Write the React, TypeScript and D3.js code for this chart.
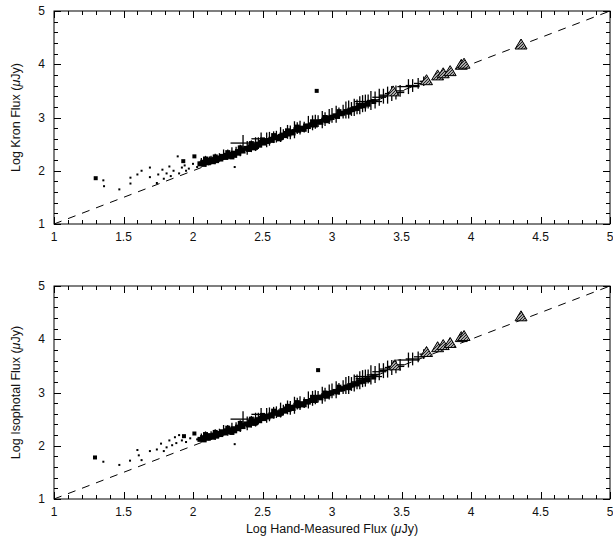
import React from "react";
import * as d3 from "d3";

// ---------- tick labels ----------
const xTicks = [1, 1.5, 2, 2.5, 3, 3.5, 4, 4.5, 5];
const xTickLabels = ["1", "1.5", "2", "2.5", "3", "3.5", "4", "4.5", "5"];
const yTicks = [1, 2, 3, 4, 5];
const yTickLabels = ["1", "2", "3", "4", "5"];

// ---------- top panel: Kron flux ----------
const kronDots: [number, number][] = [
  [1.355, 1.82], [1.36, 1.71], [1.47, 1.65], [1.55, 1.87], [1.55, 1.76],
  [1.6, 1.93], [1.63, 2.0], [1.69, 2.06], [1.69, 1.88], [1.74, 1.77],
  [1.75, 1.93], [1.78, 2.02], [1.79, 1.85], [1.81, 1.95], [1.83, 2.08],
  [1.84, 1.9], [1.86, 2.0], [1.89, 2.27], [1.9, 1.95], [1.92, 2.06],
  [1.94, 2.1], [1.95, 2.0], [1.97, 2.04], [2.0, 2.13], [2.03, 2.07],
  [2.06, 2.12], [2.09, 2.22], [2.12, 2.25], [2.15, 2.26], [2.3, 2.07],
];
const kronBigDots: [number, number][] = [
  [1.3, 1.86], [1.93, 2.18], [2.01, 2.27], [2.89, 3.5],
];
const kronSquares: [number, number][] = [
  [2.05, 2.13], [2.07, 2.16], [2.08, 2.12], [2.1, 2.18], [2.11, 2.15],
  [2.12, 2.2], [2.14, 2.17], [2.15, 2.21], [2.17, 2.19], [2.18, 2.24],
  [2.2, 2.22], [2.21, 2.27], [2.23, 2.25], [2.24, 2.29], [2.26, 2.27],
  [2.27, 2.31], [2.29, 2.33], [2.3, 2.29], [2.32, 2.36], [2.33, 2.33],
  [2.35, 2.39], [2.36, 2.37], [2.38, 2.42], [2.4, 2.4], [2.41, 2.45],
  [2.43, 2.46], [2.44, 2.43], [2.46, 2.5], [2.48, 2.48], [2.49, 2.53],
  [2.51, 2.52], [2.52, 2.56], [2.54, 2.55], [2.56, 2.59], [2.57, 2.57],
  [2.59, 2.62], [2.61, 2.63], [2.62, 2.6], [2.64, 2.67], [2.66, 2.66],
  [2.67, 2.7], [2.69, 2.69], [2.71, 2.73], [2.72, 2.71], [2.74, 2.77],
  [2.76, 2.76], [2.78, 2.8], [2.79, 2.78], [2.81, 2.84], [2.83, 2.83],
  [2.85, 2.86], [2.87, 2.88], [2.88, 2.86], [2.9, 2.92], [2.92, 2.91],
  [2.94, 2.95], [2.96, 2.94], [2.98, 2.99], [3.0, 3.0], [3.02, 3.03],
  [3.04, 3.02], [3.06, 3.07], [3.08, 3.08], [3.1, 3.11], [3.12, 3.1],
  [3.15, 3.15], [3.18, 3.17], [3.2, 3.21], [3.23, 3.22], [3.26, 3.25],
  [3.3, 3.3], [2.09, 2.22], [2.16, 2.26], [2.25, 2.34], [2.34, 2.43],
  [2.42, 2.51], [2.5, 2.58], [2.58, 2.66], [2.68, 2.75], [2.75, 2.82],
  [2.86, 2.92], [2.95, 3.0], [3.05, 3.11], [2.28, 2.26], [2.45, 2.44],
  [2.63, 2.62], [2.8, 2.78], [2.97, 2.96], [3.13, 3.14],
];
// [x, y, xErr, yErr]
const kronCrosses: [number, number, number, number][] = [
  [2.06, 2.16, 0.015, 0.08], [2.09, 2.18, 0.015, 0.1], [2.13, 2.2, 0.015, 0.08],
  [2.16, 2.22, 0.015, 0.1], [2.19, 2.25, 0.015, 0.08], [2.22, 2.3, 0.03, 0.1],
  [2.25, 2.3, 0.02, 0.1], [2.28, 2.33, 0.02, 0.11], [2.31, 2.35, 0.02, 0.1],
  [2.34, 2.38, 0.02, 0.11], [2.36, 2.52, 0.09, 0.15], [2.39, 2.43, 0.02, 0.13],
  [2.42, 2.46, 0.02, 0.11], [2.45, 2.5, 0.02, 0.13], [2.47, 2.52, 0.02, 0.11],
  [2.49, 2.6, 0.07, 0.12], [2.53, 2.58, 0.02, 0.14], [2.55, 2.6, 0.02, 0.13],
  [2.58, 2.63, 0.02, 0.11], [2.6, 2.64, 0.02, 0.11], [2.63, 2.68, 0.02, 0.14],
  [2.65, 2.68, 0.02, 0.1], [2.68, 2.73, 0.02, 0.13], [2.7, 2.72, 0.02, 0.13],
  [2.73, 2.77, 0.02, 0.16], [2.75, 2.8, 0.02, 0.11], [2.77, 2.81, 0.02, 0.13],
  [2.8, 2.82, 0.02, 0.1], [2.83, 2.87, 0.02, 0.16], [2.86, 2.9, 0.02, 0.14],
  [2.88, 2.92, 0.02, 0.13], [2.9, 2.93, 0.02, 0.11], [2.93, 2.96, 0.02, 0.16],
  [2.95, 2.97, 0.02, 0.13], [2.98, 3.02, 0.02, 0.14], [3.0, 3.04, 0.02, 0.14],
  [3.03, 3.06, 0.02, 0.16], [3.05, 3.08, 0.02, 0.11], [3.08, 3.11, 0.02, 0.13],
  [3.1, 3.14, 0.02, 0.16], [3.12, 3.15, 0.02, 0.17], [3.14, 3.16, 0.03, 0.13],
  [3.16, 3.19, 0.02, 0.16], [3.18, 3.2, 0.04, 0.14], [3.2, 3.23, 0.03, 0.17],
  [3.22, 3.26, 0.05, 0.16], [3.24, 3.27, 0.03, 0.16], [3.26, 3.3, 0.1, 0.13],
  [3.28, 3.32, 0.03, 0.18], [3.31, 3.33, 0.03, 0.16], [3.34, 3.38, 0.05, 0.16],
  [3.37, 3.4, 0.03, 0.14], [3.4, 3.42, 0.06, 0.16], [3.43, 3.45, 0.05, 0.14],
  [3.46, 3.47, 0.06, 0.13], [3.49, 3.5, 0.03, 0.11], [3.55, 3.58, 0.08, 0.14],
  [3.58, 3.6, 0.05, 0.12], [3.62, 3.64, 0.03, 0.1], [3.66, 3.68, 0.03, 0.09],
];
const kronTriangles: [number, number][] = [
  [3.44, 3.5], [3.68, 3.71], [3.76, 3.8], [3.8, 3.84],
  [3.85, 3.88], [3.93, 4.0], [3.95, 4.02], [4.36, 4.38],
];

// ---------- bottom panel: isophotal flux ----------
const isoDots: [number, number][] = [
  [1.355, 1.7], [1.47, 1.64], [1.547, 1.72], [1.6, 1.92], [1.61, 1.82],
  [1.63, 1.73], [1.69, 1.9], [1.74, 1.93], [1.77, 2.04], [1.79, 1.9],
  [1.81, 1.97], [1.83, 2.1], [1.85, 2.01], [1.87, 2.16], [1.88, 2.05],
  [1.9, 2.2], [1.92, 2.1], [1.95, 2.07], [1.98, 2.14], [2.03, 2.12],
  [2.06, 2.18], [2.09, 2.2], [2.3, 2.03],
];
const isoBigDots: [number, number][] = [
  [1.295, 1.78], [1.935, 2.18], [2.01, 2.23], [2.9, 3.42],
];
const isoSquares: [number, number][] = [
  [2.05, 2.12], [2.07, 2.15], [2.08, 2.11], [2.1, 2.17], [2.11, 2.14],
  [2.12, 2.19], [2.14, 2.16], [2.15, 2.2], [2.17, 2.18], [2.18, 2.23],
  [2.2, 2.21], [2.21, 2.26], [2.23, 2.24], [2.24, 2.28], [2.26, 2.26],
  [2.27, 2.3], [2.29, 2.32], [2.3, 2.28], [2.32, 2.35], [2.33, 2.32],
  [2.35, 2.38], [2.36, 2.36], [2.38, 2.41], [2.4, 2.39], [2.41, 2.44],
  [2.43, 2.45], [2.44, 2.42], [2.46, 2.49], [2.48, 2.47], [2.49, 2.52],
  [2.51, 2.51], [2.52, 2.55], [2.54, 2.54], [2.56, 2.58], [2.57, 2.56],
  [2.59, 2.61], [2.61, 2.62], [2.62, 2.59], [2.64, 2.66], [2.66, 2.65],
  [2.67, 2.69], [2.69, 2.68], [2.71, 2.72], [2.72, 2.7], [2.74, 2.76],
  [2.76, 2.75], [2.78, 2.79], [2.79, 2.77], [2.81, 2.83], [2.83, 2.82],
  [2.85, 2.85], [2.87, 2.87], [2.88, 2.85], [2.9, 2.91], [2.92, 2.9],
  [2.94, 2.94], [2.96, 2.93], [2.98, 2.98], [3.0, 2.99], [3.02, 3.02],
  [3.04, 3.01], [3.06, 3.06], [3.08, 3.07], [3.1, 3.1], [3.12, 3.09],
  [3.15, 3.14], [3.18, 3.16], [3.2, 3.2], [3.23, 3.21], [3.26, 3.24],
  [3.3, 3.29], [2.09, 2.21], [2.16, 2.25], [2.25, 2.33], [2.34, 2.42],
  [2.42, 2.5], [2.5, 2.57], [2.58, 2.65], [2.68, 2.74], [2.75, 2.81],
  [2.86, 2.91], [2.95, 2.99], [3.05, 3.1], [2.28, 2.25], [2.45, 2.43],
  [2.63, 2.61], [2.8, 2.77], [2.97, 2.95], [3.13, 3.13],
];
const isoCrosses: [number, number, number, number][] = [
  [2.06, 2.15, 0.015, 0.08], [2.09, 2.17, 0.015, 0.1], [2.13, 2.19, 0.015, 0.08],
  [2.16, 2.21, 0.015, 0.1], [2.19, 2.24, 0.015, 0.08], [2.22, 2.29, 0.03, 0.1],
  [2.25, 2.29, 0.02, 0.1], [2.28, 2.32, 0.02, 0.11], [2.31, 2.34, 0.02, 0.1],
  [2.34, 2.37, 0.02, 0.11], [2.36, 2.5, 0.09, 0.15], [2.39, 2.42, 0.02, 0.13],
  [2.42, 2.45, 0.02, 0.11], [2.45, 2.49, 0.02, 0.13], [2.47, 2.51, 0.02, 0.11],
  [2.49, 2.59, 0.07, 0.12], [2.53, 2.57, 0.02, 0.14], [2.55, 2.59, 0.02, 0.13],
  [2.58, 2.62, 0.02, 0.11], [2.6, 2.63, 0.02, 0.11], [2.63, 2.67, 0.02, 0.14],
  [2.65, 2.67, 0.02, 0.1], [2.68, 2.72, 0.02, 0.13], [2.7, 2.71, 0.02, 0.13],
  [2.73, 2.76, 0.02, 0.16], [2.75, 2.79, 0.02, 0.11], [2.77, 2.8, 0.02, 0.13],
  [2.8, 2.81, 0.02, 0.1], [2.83, 2.86, 0.02, 0.16], [2.86, 2.89, 0.02, 0.14],
  [2.88, 2.91, 0.02, 0.13], [2.9, 2.92, 0.02, 0.11], [2.93, 2.95, 0.02, 0.16],
  [2.95, 2.96, 0.02, 0.13], [2.98, 3.01, 0.02, 0.14], [3.0, 3.03, 0.02, 0.14],
  [3.03, 3.05, 0.02, 0.16], [3.05, 3.07, 0.02, 0.11], [3.08, 3.1, 0.02, 0.13],
  [3.1, 3.13, 0.02, 0.16], [3.12, 3.14, 0.02, 0.17], [3.14, 3.16, 0.03, 0.13],
  [3.16, 3.18, 0.02, 0.16], [3.18, 3.2, 0.04, 0.14], [3.2, 3.23, 0.03, 0.17],
  [3.22, 3.26, 0.05, 0.16], [3.24, 3.27, 0.03, 0.16], [3.26, 3.3, 0.1, 0.13],
  [3.28, 3.33, 0.03, 0.18], [3.31, 3.34, 0.03, 0.16], [3.34, 3.39, 0.05, 0.16],
  [3.37, 3.41, 0.03, 0.14], [3.4, 3.44, 0.06, 0.16], [3.43, 3.47, 0.05, 0.14],
  [3.46, 3.49, 0.06, 0.13], [3.49, 3.52, 0.03, 0.11], [3.55, 3.61, 0.08, 0.14],
  [3.58, 3.63, 0.05, 0.12], [3.62, 3.67, 0.03, 0.1], [3.66, 3.72, 0.03, 0.09],
];
const isoTriangles: [number, number][] = [
  [3.45, 3.52], [3.68, 3.77], [3.76, 3.86], [3.8, 3.9],
  [3.85, 3.94], [3.93, 4.05], [3.95, 4.07], [4.36, 4.44],
];

const FONT = "'Liberation Sans', Arial, Helvetica, sans-serif";

type PanelProps = {
  id: string;
  top: number;
  bottom: number;
  yTitle: string;
  dots: [number, number][];
  bigDots: [number, number][];
  squares: [number, number][];
  crosses: [number, number, number, number][];
  triangles: [number, number][];
  xTitle?: string;
};

function Panel(p: PanelProps) {
  const x = d3.scaleLinear().domain([1, 5]).range([54, 610]);
  const y = d3.scaleLinear().domain([1, 5]).range([p.bottom, p.top]);
  const [x0, x1] = x.range();
  const minorX = d3.range(1, 5.0001, 0.1);
  const minorY = d3.range(1, 5.0001, 0.2);
  const midY = (p.top + p.bottom) / 2;
  const tri = (cx: number, cy: number) => {
    const w = 6, h = 10;
    return `M${cx - w},${cy + h / 2}L${cx},${cy - h / 2}L${cx + w},${cy + h / 2}Z`;
  };
  return (
    <g>
      <defs>
        <pattern id={`hatch-${p.id}`} width="3" height="3" patternUnits="userSpaceOnUse">
          <rect width="3" height="3" fill="#a8a8a8" />
          <path d="M0,3L3,0" stroke="#222" strokeWidth="1" />
        </pattern>
      </defs>
      {/* dashed 1:1 line */}
      <line x1={x(1)} y1={y(1)} x2={x(5)} y2={y(5)} stroke="#000" strokeWidth={1} strokeDasharray="8,7" />
      {/* frame */}
      <rect x={x0} y={p.top} width={x1 - x0} height={p.bottom - p.top} fill="none" stroke="#000" strokeWidth={1} />
      {/* x ticks */}
      {minorX.map((v, i) => {
        const major = Math.abs(v * 2 - Math.round(v * 2)) < 1e-6;
        const len = major ? 7 : 4;
        const xx = Math.round(x(v)) + 0.5;
        return (
          <g key={`xt${i}`}>
            <line x1={xx} x2={xx} y1={p.bottom} y2={p.bottom - len} stroke="#000" />
            <line x1={xx} x2={xx} y1={p.top} y2={p.top + len} stroke="#000" />
          </g>
        );
      })}
      {minorY.map((v, i) => {
        const major = Math.abs(v - Math.round(v)) < 1e-6;
        const len = major ? 7 : 4;
        const yy = Math.round(y(v)) + 0.5;
        return (
          <g key={`yt${i}`}>
            <line x1={x0} x2={x0 + len} y1={yy} y2={yy} stroke="#000" />
            <line x1={x1} x2={x1 - len} y1={yy} y2={yy} stroke="#000" />
          </g>
        );
      })}
      {xTicks.map((v, i) => (
        <text key={`xl${i}`} x={x(v)} y={p.bottom + 14} textAnchor="middle" dominantBaseline="middle"
          fontFamily={FONT} fontSize={12} fill="#111">{xTickLabels[i]}</text>
      ))}
      {yTicks.map((v, i) => (
        <text key={`yl${i}`} x={x0 - 9} y={y(v) + 1} textAnchor="end" dominantBaseline="middle"
          fontFamily={FONT} fontSize={12} fill="#111">{yTickLabels[i]}</text>
      ))}
      <text transform={`translate(17,${midY}) rotate(-90)`} textAnchor="middle" dominantBaseline="middle"
        fontFamily={FONT} fontSize={12.5} fill="#111">
        {p.yTitle} (<tspan fontStyle="italic">μ</tspan>Jy)
      </text>
      {p.xTitle && (
        <text x={(x0 + x1) / 2} y={p.bottom + 31} textAnchor="middle" dominantBaseline="middle"
          fontFamily={FONT} fontSize={12.5} fill="#111">
          {p.xTitle} (<tspan fontStyle="italic">μ</tspan>Jy)
        </text>
      )}
      {/* data */}
      {p.dots.map((d, i) => (
        <rect key={`d${i}`} x={x(d[0]) - 1} y={y(d[1]) - 1} width={2} height={2} fill="#000" />
      ))}
      {p.bigDots.map((d, i) => (
        <rect key={`b${i}`} x={x(d[0]) - 2} y={y(d[1]) - 2} width={4} height={4} fill="#000" />
      ))}
      {p.crosses.map((d, i) => (
        <g key={`c${i}`} stroke="#000" strokeWidth={1.3}>
          <line x1={x(d[0] - d[2])} x2={x(d[0] + d[2])} y1={y(d[1])} y2={y(d[1])} />
          <line x1={x(d[0])} x2={x(d[0])} y1={y(d[1] - d[3])} y2={y(d[1] + d[3])} />
        </g>
      ))}
      {p.squares.map((d, i) => (
        <rect key={`s${i}`} x={x(d[0]) - 2.5} y={y(d[1]) - 2.5} width={5} height={5} fill="#000" />
      ))}
      {p.triangles.map((d, i) => (
        <path key={`t${i}`} d={tri(x(d[0]), y(d[1]))} fill={`url(#hatch-${p.id})`} stroke="#000" strokeWidth={1} />
      ))}
    </g>
  );
}

export default function App() {
  return (
    <svg width={613} height={548} style={{ position: "absolute", left: 0, top: 0, background: "#fff" }}>
      <rect width={613} height={548} fill="#fff" />
      <Panel id="kron" top={11} bottom={224} yTitle="Log Kron Flux"
        dots={kronDots} bigDots={kronBigDots} squares={kronSquares} crosses={kronCrosses} triangles={kronTriangles} />
      <Panel id="iso" top={286} bottom={499} yTitle="Log Isophotal Flux"
        dots={isoDots} bigDots={isoBigDots} squares={isoSquares} crosses={isoCrosses} triangles={isoTriangles}
        xTitle="Log Hand-Measured Flux" />
    </svg>
  );
}
